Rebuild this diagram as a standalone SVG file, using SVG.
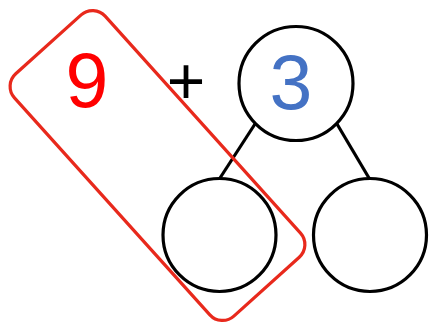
<svg xmlns="http://www.w3.org/2000/svg" width="431" height="324" viewBox="0 0 431 324">
<style>
.node{fill:none;stroke:#000;stroke-width:3.2}
.edge{stroke:#000;stroke-width:3.2;fill:none}
.num{font-family:"Liberation Sans",Arial,sans-serif;font-size:77px;text-anchor:middle}
</style>
<rect width="431" height="324" fill="#fff"/>
<g id="connectors">
<line class="edge" x1="255" y1="124" x2="220" y2="178"/>
<line class="edge" x1="337" y1="124" x2="369" y2="178"/>
</g>
<g id="node-top"><circle class="node" cx="296" cy="83.5" r="57"/><text class="num" x="291" y="109" fill="#4472C4">3</text></g>
<g id="node-left"><circle class="node" cx="219.5" cy="235" r="56.5"/></g>
<g id="node-right"><circle class="node" cx="370" cy="235" r="56.5"/></g>
<g id="nine"><text class="num" x="87" y="107" fill="#FF0000">9</text></g>
<g id="plus"><text x="186" y="104" font-family="'Liberation Sans',Arial,sans-serif" font-size="66" text-anchor="middle" fill="#000">+</text></g>
<g id="group-box"><rect x="-163" y="-61" width="326" height="122" rx="17" fill="none" stroke="#E8291C" stroke-width="3.2" transform="translate(157.5 165.5) rotate(48)"/></g>
</svg>
